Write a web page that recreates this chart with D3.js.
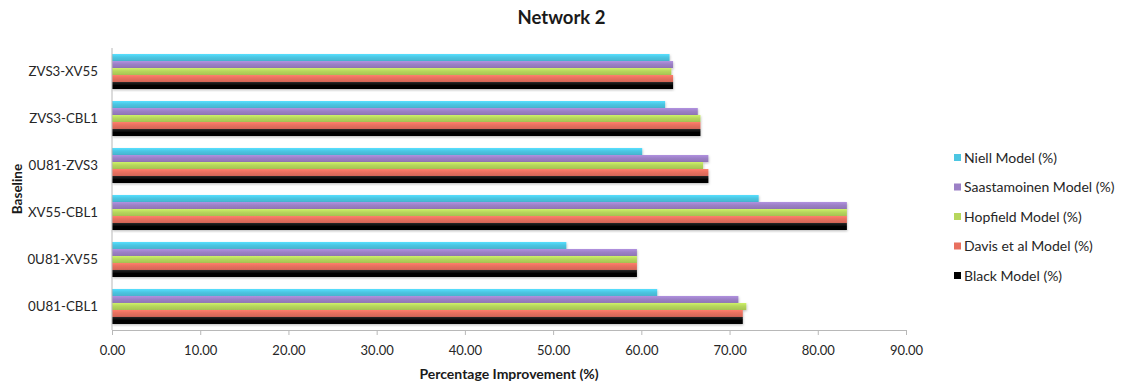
<!DOCTYPE html>
<html>
<head>
<meta charset="utf-8">
<script src="https://cdn.jsdelivr.net/npm/d3@7"></script>
<style>
  html, body { margin: 0; padding: 0; background: #fff; }
  svg { display: block; font-family: Lato, "Open Sans", sans-serif; }
</style>
</head>
<body>
<svg id="chart" width="1123" height="387"></svg>
<script>
// Baselines, listed bottom to top as drawn
const baselines = ["0U81-CBL1", "0U81-XV55", "XV55-CBL1", "0U81-ZVS3", "ZVS3-CBL1", "ZVS3-XV55"];

// Series, listed top to bottom within each group
const seriesNames = ["Niell Model (%)", "Saastamoinen Model (%)", "Hopfield Model (%)", "Davis et al Model (%)", "Black Model (%)"];
const seriesColors = ["#4cc6e2", "#9c80c6", "#b6d65c", "#e8705f", "#000000"];

// Percentage improvement per baseline (same order as baselines)
const niell        = [61.8, 51.5, 73.3, 60.1, 62.7, 63.2];
const saastamoinen = [71.0, 59.5, 83.3, 67.6, 66.4, 63.6];
const hopfield     = [71.9, 59.5, 83.3, 67.0, 66.7, 63.4];
const davis        = [71.5, 59.5, 83.3, 67.6, 66.7, 63.6];
const black        = [71.5, 59.5, 83.3, 67.6, 66.7, 63.6];
const seriesValues = [niell, saastamoinen, hopfield, davis, black];

const xTicks = [0, 10, 20, 30, 40, 50, 60, 70, 80, 90];

const svg = d3.select("#chart");
const width = 1123;
const plotLeft = 112, plotRight = 906, plotTop = 48, plotBottom = 330;

const x = d3.scaleLinear().domain([0, 90]).range([plotLeft, plotRight]);
const y = d3.scaleBand().domain(baselines).range([plotBottom, plotTop]).paddingInner(0.255).paddingOuter(0.128);
const ySub = d3.scaleBand().domain(seriesNames).range([0, y.bandwidth()]);

// Soft vertical shading on each bar
const defs = svg.append("defs");
seriesColors.forEach((c, i) => {
  const g = defs.append("linearGradient").attr("id", "grad" + i)
    .attr("x1", 0).attr("y1", 0).attr("x2", 0).attr("y2", 1);
  const base = d3.color(c);
  const light = i === 4 ? d3.color("#2a2a2a") : base.brighter(0.35);
  const dark = i === 4 ? d3.color("#000") : base.darker(0.25);
  g.append("stop").attr("offset", "0%").attr("stop-color", light);
  g.append("stop").attr("offset", "45%").attr("stop-color", base);
  g.append("stop").attr("offset", "100%").attr("stop-color", dark);
});
defs.append("filter").attr("id", "shadow")
  .attr("x", "-2%").attr("y", "-20%").attr("width", "104%").attr("height", "160%")
  .append("feDropShadow").attr("dx", 0.5).attr("dy", 1.2).attr("stdDeviation", 0.8)
  .attr("flood-color", "#000").attr("flood-opacity", 0.25);

// Bars
const groups = svg.append("g").selectAll("g")
  .data(baselines)
  .join("g")
  .attr("transform", d => `translate(0,${y(d)})`);

groups.each(function(b, bi) {
  d3.select(this).selectAll("rect")
    .data(seriesNames.map((s, si) => ({ s, si, v: seriesValues[si][bi] })))
    .join("rect")
    .attr("x", x(0))
    .attr("y", d => ySub(d.s))
    .attr("height", ySub.bandwidth())
    .attr("width", d => x(d.v) - x(0))
    .attr("fill", d => `url(#grad${d.si})`)
    .attr("filter", "url(#shadow)");
});

// X axis
const xAxis = d3.axisBottom(x).tickValues(xTicks).tickFormat(d3.format(".2f")).tickSize(5).tickSizeOuter(0);
const gx = svg.append("g").attr("transform", `translate(0,${plotBottom})`).call(xAxis);
gx.select(".domain").attr("stroke", "#b8b8b8");
gx.selectAll(".tick line").attr("stroke", "#b8b8b8");
gx.selectAll(".tick text").attr("dy", "1.3em").attr("font-size", 13).attr("fill", "#262626").attr("font-family", "Lato, sans-serif");

// Y axis
const yAxis = d3.axisLeft(y).tickSize(0).tickSizeOuter(0).tickPadding(14);
const gy = svg.append("g").attr("transform", `translate(${plotLeft},0)`).call(yAxis);
gy.select(".domain").attr("stroke", "#b8b8b8").attr("d", `M0,${plotTop}V${plotBottom}`);
gy.selectAll(".tick text").attr("font-size", 13.3).attr("fill", "#262626").attr("font-family", "Lato, sans-serif");

// Title and axis titles
svg.append("text").attr("x", width / 2).attr("y", 24).attr("text-anchor", "middle")
  .attr("font-size", 18.5).attr("font-weight", "bold").attr("fill", "#1a1a1a").text("Network 2");
svg.append("text").attr("x", (plotLeft + plotRight) / 2).attr("y", 379).attr("text-anchor", "middle")
  .attr("font-size", 14).attr("font-weight", "bold").attr("fill", "#1a1a1a").text("Percentage Improvement (%)");
svg.append("text").attr("transform", `translate(22,${(plotTop + plotBottom) / 2}) rotate(-90)`)
  .attr("text-anchor", "middle").attr("font-size", 13.5).attr("font-weight", "bold").attr("fill", "#1a1a1a").text("Baseline");

// Legend
const legend = svg.append("g").attr("transform", "translate(954,158)");
const items = legend.selectAll("g").data(seriesNames).join("g")
  .attr("transform", (d, i) => `translate(0,${i * 29.5})`);
items.append("rect").attr("x", 0).attr("y", -4).attr("width", 7).attr("height", 7)
  .attr("fill", (d, i) => seriesColors[i]);
items.append("text").attr("x", 10).attr("y", 0).attr("dy", "0.35em")
  .attr("font-size", 14).attr("fill", "#262626").text(d => d);
</script>
</body>
</html>
